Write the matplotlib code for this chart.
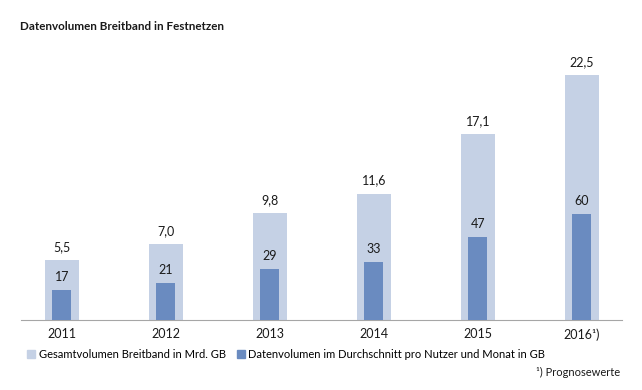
import numpy as np
import matplotlib.pyplot as plt
from matplotlib.patches import Patch

plt.rcParams['font.family'] = ['Lato', 'DejaVu Sans']

years = ['2011', '2012', '2013', '2014', '2015', '2016¹)']
gesamt = [5.5, 7.0, 9.8, 11.6, 17.1, 22.5]
pro_nutzer = [17, 21, 29, 33, 47, 60]

light = '#c5d1e5'
dark = '#6a8bc0'


def main():
    fig = plt.figure(figsize=(6.42, 3.90), dpi=100)
    ax = fig.add_axes([21 / 642, 70 / 390, 601 / 642, 280 / 390])
    ax2 = ax.twinx()

    x = np.arange(len(years))
    ax.bar(x, gesamt, width=0.327, color=light, zorder=1)
    ax2.bar(x, pro_nutzer, width=0.183, color=dark, zorder=2)

    ax.set_xlim(-0.394, 5.385)
    ax.set_ylim(0, 280 / 10.9)
    ax2.set_ylim(0, 280 / 1.766)

    for xi, v in zip(x, gesamt):
        ax.annotate(f'{v:.1f}'.replace('.', ','), (xi, v), xytext=(0, 5),
                    textcoords='offset points', ha='center', va='bottom',
                    fontsize=9, color='#1a1a1a')
    for xi, v in zip(x, pro_nutzer):
        ax2.annotate(str(v), (xi, v), xytext=(0, 5),
                     textcoords='offset points', ha='center', va='bottom',
                     fontsize=9, color='#1a1a1a')

    for a in (ax, ax2):
        for s in ['top', 'right', 'left']:
            a.spines[s].set_visible(False)
        a.set_yticks([])
    ax2.spines['bottom'].set_visible(False)
    ax.spines['bottom'].set_color('#a6a6a6')
    ax.set_xticks(x)
    ax.set_xticklabels(years, fontsize=9, color='#1a1a1a')
    ax.tick_params(axis='x', length=0, pad=6)

    fig.text(20 / 642, 1 - 27 / 390, 'Datenvolumen Breitband in Festnetzen',
             fontsize=8.4, fontweight='bold', va='center', ha='left', color='#1a1a1a')

    handles = [Patch(color=light, label='Gesamtvolumen Breitband in Mrd. GB'),
               Patch(color=dark, label='Datenvolumen im Durchschnitt pro Nutzer und Monat in GB')]
    fig.legend(handles=handles, loc='center left', bbox_to_anchor=(27 / 642, 1 - 354 / 390),
               ncol=2, frameon=False, fontsize=8, handlelength=0.75, handleheight=0.75,
               handletextpad=0.3, columnspacing=1.0, borderaxespad=0, borderpad=0)

    fig.text(620 / 642, 1 - 372 / 390, '¹) Prognosewerte', fontsize=8,
             ha='right', va='center', color='#1a1a1a')

    fig.savefig('out.png', dpi=100)
    plt.close()


if __name__ == "__main__":
    main()
